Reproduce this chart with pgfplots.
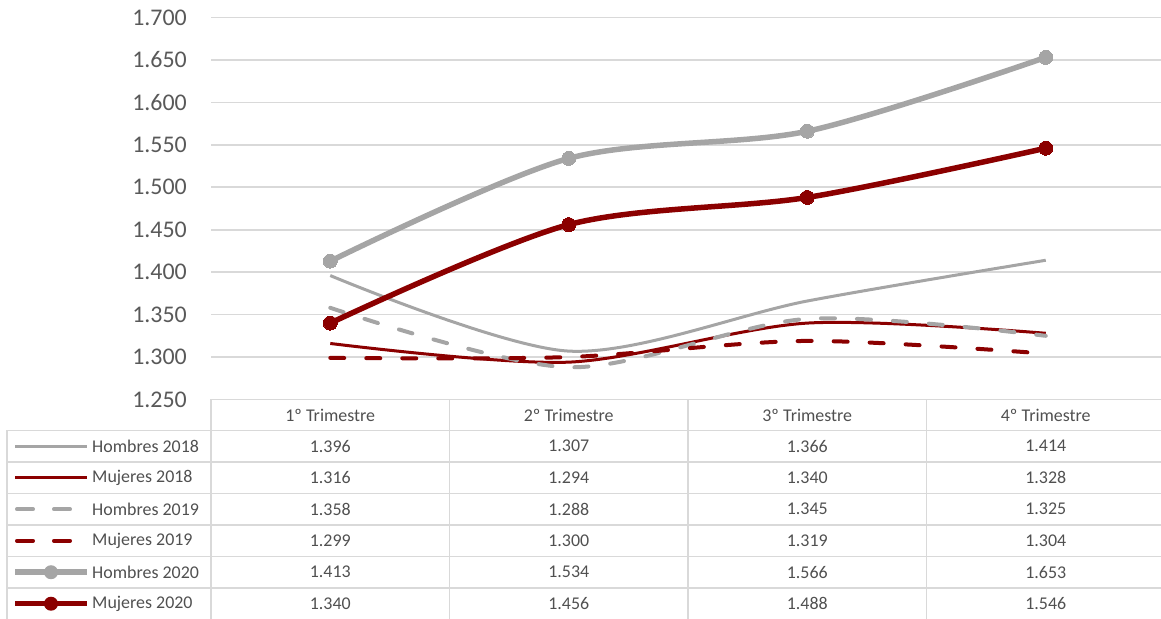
\documentclass[border=0pt]{standalone}
\usepackage{pgfplots}
\usepackage{pgfplotstable}
\pgfplotsset{compat=1.18}
\usepackage{fontspec}
\setmainfont{Carlito}

\definecolor{gris}{RGB}{165,165,165}
\definecolor{rojo}{RGB}{139,0,0}
\definecolor{rejilla}{RGB}{217,217,217}
\definecolor{texto}{RGB}{89,89,89}
\definecolor{tabla}{RGB}{80,80,80}

% trimestre, Hombres 2018, Mujeres 2018, Hombres 2019, Mujeres 2019, Hombres 2020, Mujeres 2020
\pgfplotstableread{
t  h18  m18  h19  m19  h20  m20
1  1396 1316 1358 1299 1413 1340
2  1307 1294 1288 1300 1534 1456
3  1366 1340 1345 1319 1566 1488
4  1414 1328 1325 1304 1653 1546
}\datos

\tikzset{
  hom18/.style={gris, line width=3bp},
  muj18/.style={rojo, line width=3bp},
  hom19/.style={gris, line width=4bp, line cap=round, dash pattern=on 14bp off 22bp},
  muj19/.style={rojo, line width=4bp, line cap=round, dash pattern=on 14bp off 22bp},
  hom20/.style={gris, line width=5.5bp},
  muj20/.style={rojo, line width=5.5bp},
}

\begin{document}
\begin{tikzpicture}[x=1bp, y=1bp]
\useasboundingbox (0,0) rectangle (1161,619);
\begin{axis}[
    at={(211bp,219.5bp)}, anchor=south west,
    scale only axis,
    width=954bp, height=382bp,
    xmin=0.5, xmax=4.5,
    ymin=1250, ymax=1700,
    ytick={1250,1300,1350,1400,1450,1500,1550,1600,1650,1700},
    xtick=\empty,
    axis line style={draw=none},
    major tick length=0pt,
    ymajorgrids,
    grid style={rejilla, line width=1.6bp},
    yticklabel style={font=\fontsize{24}{24}\selectfont, text=texto, inner sep=0pt, xshift=-24bp},
    /pgf/number format/.cd, 1000 sep={.}, assume math mode=true,
  ]
  \addplot[hom18, smooth] table[x=t, y=h18] {\datos};
  \addplot[muj18, smooth] table[x=t, y=m18] {\datos};
  \addplot[hom19, smooth] table[x=t, y=h19] {\datos};
  \addplot[muj19, smooth] table[x=t, y=m19] {\datos};
  \addplot[hom20, smooth, mark=*, mark size=7bp, mark options={solid, fill=gris, draw=gris, line width=0pt}] table[x=t, y=h20] {\datos};
  \addplot[muj20, smooth, mark=*, mark size=7bp, mark options={solid, fill=rojo, draw=rojo, line width=0pt}] table[x=t, y=m20] {\datos};
\end{axis}

% tabla de datos
\begin{scope}[rejilla, line width=1.6bp]
  \draw (211,219.5) -- (1165,219.5);
  \foreach \k in {0,...,6} {
    \draw (7,188.5-31.5*\k) -- (1165,188.5-31.5*\k);
  }
  \foreach \xc in {211,449.5,688,926.5} {
    \draw (\xc,219.5) -- (\xc,-2);
  }
  \draw (7,188.5) -- (7,-2);
\end{scope}

\foreach \c/\nom in {1/1º Trimestre, 2/2º Trimestre, 3/3º Trimestre, 4/4º Trimestre} {
  \node[text=tabla, font=\fontsize{18}{18}\selectfont, inner sep=0pt] at (91.75+238.5*\c,204) {\nom};
}

\foreach \r in {0,...,3} {
  \foreach \c in {1,...,6} {
    \pgfplotstablegetelem{\r}{[index]\c}\of\datos
    \node[text=tabla, font=\fontsize{18}{18}\selectfont, inner sep=0pt]
      at (330.25+238.5*\r,188.5-31.5*\c+15.75)
      {\pgfmathprintnumber[1000 sep={.}, assume math mode=true]{\pgfplotsretval}};
  }
}

% leyenda
\foreach \nom/\est [count=\k] in {Hombres 2018/hom18, Mujeres 2018/muj18, Hombres 2019/hom19, Mujeres 2019/muj19, Hombres 2020/hom20, Mujeres 2020/muj20} {
  \node[text=tabla, font=\fontsize{18}{18}\selectfont, inner sep=0pt, anchor=west] at (92,188.5-31.5*\k+15.75) {\nom};
}
\draw[hom18] (15,188.5-15.75) -- (87,188.5-15.75);
\draw[muj18] (15,188.5-31.5-15.75) -- (87,188.5-31.5-15.75);
\draw[hom19, dash pattern=on 16bp off 21bp] (17,188.5-63-15.75) -- (75,188.5-63-15.75);
\draw[muj19, dash pattern=on 16bp off 21bp] (17,188.5-94.5-15.75) -- (75,188.5-94.5-15.75);
\draw[hom20] (15,188.5-126-15.75) -- (87,188.5-126-15.75);
\fill[gris] (51,188.5-126-15.75) circle (7);
\draw[muj20] (15,188.5-157.5-15.75) -- (87,188.5-157.5-15.75);
\fill[rojo] (51,188.5-157.5-15.75) circle (7);
\end{tikzpicture}
\end{document}
